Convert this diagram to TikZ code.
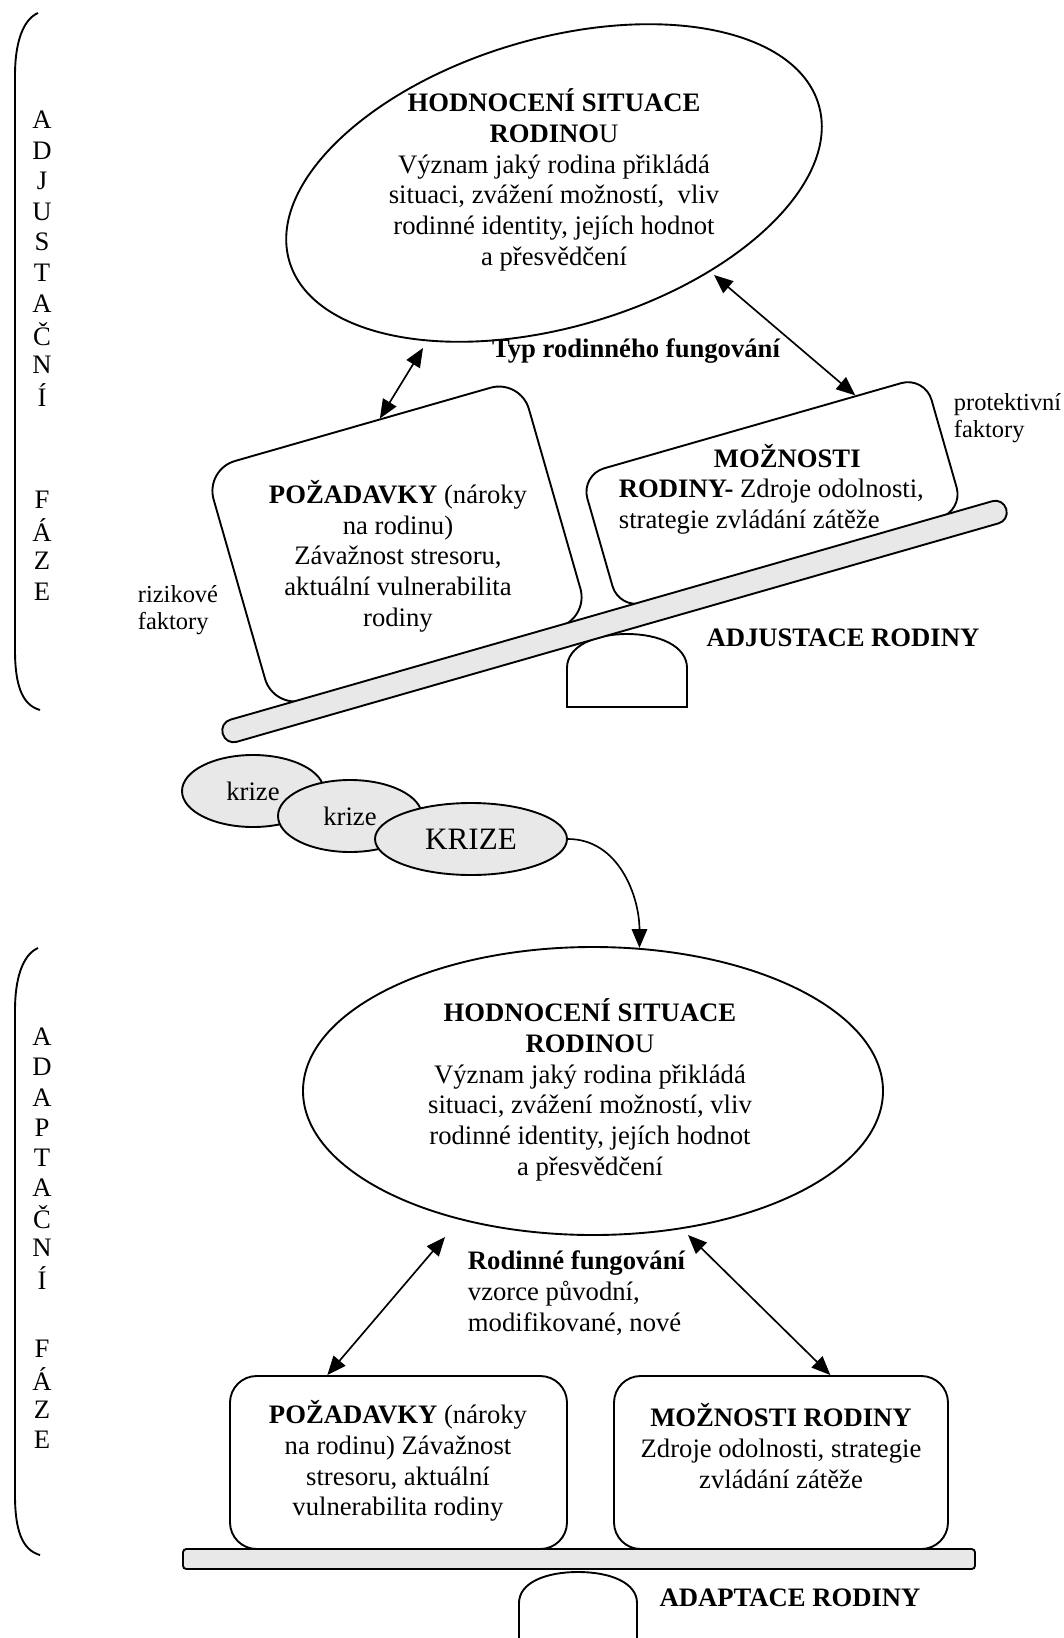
\documentclass[tikz,border=0pt]{standalone}
\usepackage{fontspec}
\setmainfont{Liberation Serif}
\usetikzlibrary{shapes.geometric}
\usetikzlibrary{arrows.meta}
\usetikzlibrary{calc}

\definecolor{beamgray}{RGB}{232,232,232}

\tikzset{
  card/.style={draw, rounded corners=#1},
  crisis/.style={draw, ellipse, fill=beamgray, minimum height=32.4pt},
  smalltxt/.style={font=\fontsize{11}{12.2}\selectfont, align=left, anchor=west},
  boldtxt/.style={font=\fontsize{12}{13.8}\selectfont\bfseries},
  arr/.style={line width=0.75pt, -{Triangle[length=8.5pt,width=7pt]}},
  dbl/.style={line width=0.75pt, {Triangle[length=8.5pt,width=7pt]}-{Triangle[length=8.5pt,width=7pt]}}
}

\begin{document}
\begin{tikzpicture}[x=0.45pt, y=-0.45pt, line width=0.85pt,
  every node/.style={font=\fontsize{12}{13.8}\selectfont, inner sep=0pt}]

\useasboundingbox (0,0) rectangle (1063,1638);

% adjustacni faze
\draw (38,13) .. controls (22,20) and (15,45) .. (15,75) -- (15,650)
  .. controls (15,685) and (22,705) .. (40,710);
\foreach \ch [count=\i] in {A,D,J,U,S,T,A,Č,N,Í}
  \node (adj\i) at (42,{120+30.55*(\i-1)}) {\ch};
\foreach \ch [count=\i] in {F,Á,Z,E}
  \node (fazeA\i) at (42,{500+30.5*(\i-1)}) {\ch};

% hodnoceni situace
\node[draw, ellipse, rotate=16.5, minimum width=248.4pt, minimum height=129.6pt] (eval1) at (554,183) {};
\node[align=center] (eval1txt) at (554,180) {\textbf{HODNOCENÍ SITUACE}\\\textbf{RODINO}U\\Význam jaký rodina přikládá\\situaci, zvážení možností, \ vliv\\rodinné identity, jejích hodnot\\a přesvědčení};

% pozadavky a moznosti na vaze
\node[card=14pt, rotate=16, minimum width=147.6pt, minimum height=112pt] (dem1) at (397,544) {};
\node[align=center] (dem1txt) at (398,556) {\textbf{POŽADAVKY} (nároky\\na rodinu)\\Závažnost stresoru,\\aktuální vulnerabilita\\rodiny};

\node[card=11pt, rotate=16, minimum width=161.1pt, minimum height=63pt] (opt1) at (772,493) {};
\node[align=left, anchor=west] (opt1txt) at (618,489) {\hspace*{42.75pt}\textbf{MOŽNOSTI}\\\textbf{RODINY-} Zdroje odolnosti,\\strategie zvládání zátěže};

\draw[fill=white] (567,707) -- (567,668) .. controls (567,646) and (595,634) .. (627,634)
  .. controls (659,634) and (687,646) .. (687,668) -- (687,707) -- cycle;
\node[draw, fill=beamgray, rounded corners=5pt, rotate=16, minimum width=366.75pt, minimum height=10.35pt] (beam1) at (614.5,621.5) {};

\node[smalltxt] (risk) at (137,610) {rizikové\\faktory};
\node[smalltxt] (prot) at (953,418) {protektivní\\faktory};
\node[boldtxt] (typ) at (636,351) {Typ rodinného fungování};
\node[boldtxt] (adjust) at (843,638) {ADJUSTACE RODINY};

\coordinate (e1a) at (423,348);
\coordinate (e1b) at (714,275);
\draw[dbl] ($(dem1.north west)!0.555!(dem1.north east)$) -- (e1a);
\draw[dbl] ($(opt1.north west)!0.797!(opt1.north east)$) -- (e1b);

% krize
\node[crisis, minimum width=63.9pt] (krize1) at (253,791) {krize};
\node[crisis, minimum width=64.8pt] (krize2) at (350,816) {krize};
\node[crisis, minimum width=86.4pt, font=\fontsize{14}{16}\selectfont] (krize3) at (471,839) {KRIZE};

% adaptacni faze
\draw (38,948) .. controls (22,955) and (15,980) .. (15,1010) -- (15,1495)
  .. controls (15,1530) and (22,1550) .. (40,1555);
\foreach \ch [count=\i] in {A,D,A,P,T,A,Č,N,Í}
  \node (adapt\i) at (42,{1037+30.1*(\i-1)}) {\ch};
\foreach \ch [count=\i] in {F,Á,Z,E}
  \node (fazeB\i) at (42,{1349+30.3*(\i-1)}) {\ch};

\node[draw, ellipse, minimum width=261pt, minimum height=129.6pt] (eval2) at (593,1091) {};
\node[align=center] (eval2txt) at (590,1090) {\textbf{HODNOCENÍ SITUACE}\\\textbf{RODINO}U\\Význam jaký rodina přikládá\\situaci, zvážení možností, vliv\\rodinné identity, jejích hodnot\\a přesvědčení};
\draw[arr] (krize3.east) to[out=0,in=90] (eval2.72.5);

\node[align=left, anchor=west] (fung) at (467,1293) {\textbf{Rodinné fungování}\\vzorce původní,\\modifikované, nové};

\node[card=12pt, minimum width=151.65pt, minimum height=77.85pt] (dem2) at (398.5,1462.5) {};
\node[align=center] (dem2txt) at (398,1461) {\textbf{POŽADAVKY} (nároky\\na rodinu) Závažnost\\stresoru, aktuální\\vulnerabilita rodiny};
\node[card=12pt, minimum width=150.3pt, minimum height=77.85pt] (opt2) at (781,1462.5) {};
\node[align=center] (opt2txt) at (781,1446) {\textbf{MOŽNOSTI RODINY}\\Zdroje odolnosti, strategie\\zvládání zátěže};

\coordinate (e2a) at (445,1237);
\coordinate (e2b) at (688,1235);
\draw[dbl] ($(dem2.north west)!0.29!(dem2.north east)$) -- (e2a);
\draw[dbl] ($(opt2.north west)!0.647!(opt2.north east)$) -- (e2b);

\draw[fill=white] (519,1640) -- (519,1603) .. controls (519,1583) and (545,1572) .. (578,1572)
  .. controls (611,1572) and (637,1583) .. (637,1603) -- (637,1640);
\node[draw, fill=beamgray, rounded corners=1.5pt, minimum width=356.4pt, minimum height=9pt] (beam2) at (579,1559) {};
\node[boldtxt] (adaptace) at (790,1598) {ADAPTACE RODINY};

\end{tikzpicture}
\end{document}
